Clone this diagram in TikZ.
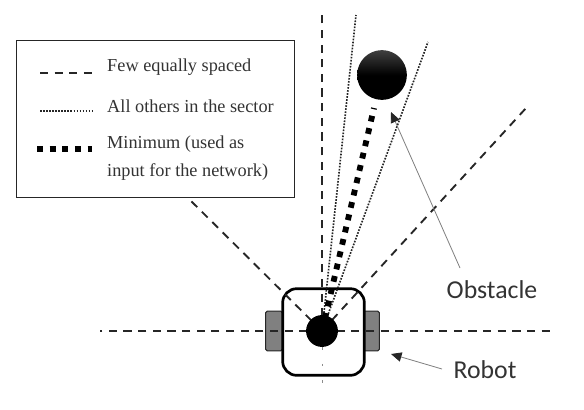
\documentclass[tikz,border=0pt]{standalone}
\usepackage{fontspec}
\setmainfont{Liberation Serif}
\newfontfamily\labelfont{Carlito}
\usetikzlibrary{arrows.meta,positioning,calc}

\begin{document}
\begin{tikzpicture}[x=.3mm,y=-.3mm]
  \tikzset{
    ray/.style={draw=black!85,dash pattern=on 7pt off 5.5pt,line width=1.6pt},
    faint ray/.style={draw=black!45,dash pattern=on 2pt off 12pt,line width=.7pt},
    thin ray/.style={draw=black!85,dash pattern=on 1.4pt off 1.2pt,line width=1.4pt},
    min ray/.style={draw=black,dash pattern=on 5pt off 5.8pt,line width=5pt},
    legend text/.style={anchor=west,align=left,inner sep=0pt,font=\fontsize{15.6}{24.5}\selectfont,text=black!80},
    callout/.style={draw=black!50,line width=.7pt,-{Triangle[length=9pt,width=8pt,color=black!85]}},
    call text/.style={font=\labelfont\fontsize{22}{24}\selectfont,text=black!80,inner sep=0pt},
    wheel/.style={draw=black!85,fill=black!50,rounded corners=1.5pt,line width=.9pt}
  }
  \useasboundingbox (0,0) rectangle (584,410);
  \coordinate (center) at (322,331);

  \coordinate (eastEnd) at (550,331);
  \coordinate (westEnd) at (100,331);
  \coordinate (northEnd) at (322,15);
  \coordinate (southEnd) at (322,385);
  \coordinate (neEnd) at (527,107);
  \coordinate (nwEnd) at (185,195);
  \coordinate (leftEdge) at (356,15);
  \coordinate (rightEdge) at (428,42);
  \coordinate (minEnd) at (374,108);

  \node[wheel,minimum width=17*.85pt,minimum height=40*.85pt,inner sep=0pt] (wheelL) at (274,331) {};
  \node[wheel,minimum width=17*.85pt,minimum height=40*.85pt,inner sep=0pt] (wheelR) at (371,331) {};
  \node[draw=black,fill=white,line width=2.3pt,rounded corners=12pt,minimum width=82*.85pt,minimum height=87*.85pt,inner sep=0pt] (robot) at (323.5,332) {};

  \foreach \e in {eastEnd,westEnd,northEnd,neEnd,nwEnd}
    \draw[ray] (center) -- (\e);
  \draw[faint ray] (center) -- (southEnd);
  \foreach \e in {leftEdge,rightEdge}
    \draw[thin ray] (center) -- (\e);
  \draw[min ray] (center) -- (minEnd);

  \node[circle,fill=black,minimum size=32*.85pt,inner sep=0pt] (sensor) at (center) {};
  \node[circle,top color=black!75,bottom color=black,middle color=black,minimum size=50*.85pt,inner sep=0pt] (obstacle) at (382,75) {};

  \node[draw=black!85,fill=white,line width=1.1pt,minimum width=279*.85pt,minimum height=158*.85pt,inner sep=0pt] (legend) at (155.5,119) {};
  \coordinate (dashL) at (40,73);   \coordinate (dashR) at (93,73);
  \coordinate (dotL) at (40,111);   \coordinate (dotR) at (93,111);
  \coordinate (minL) at (37,149);   \coordinate (minR) at (92,149);
  \draw[ray] (dashL) -- (dashR);
  \draw[thin ray] (dotL) -- (dotR);
  \draw[min ray] (minL) -- (minR);
  \node[legend text] (few) at (107,67) {Few equally spaced};
  \node[legend text] (others) at (107,106) {All others in the sector};
  \node[legend text] (minimum) at (107,158) {Minimum (used as\\input for the network)};

  \node[call text] (obstacleLabel) at (492,290) {Obstacle};
  \node[call text] (robotLabel) at (485,370) {Robot};
  \coordinate (obstacleTip) at (391,112);
  \coordinate (obstacleTail) at (460,268);
  \coordinate (robotTip) at (391,354);
  \coordinate (robotTail) at (442,369);
  \draw[callout] (obstacleTail) -- (obstacleTip);
  \draw[callout] (robotTail) -- (robotTip);
\end{tikzpicture}
\end{document}
